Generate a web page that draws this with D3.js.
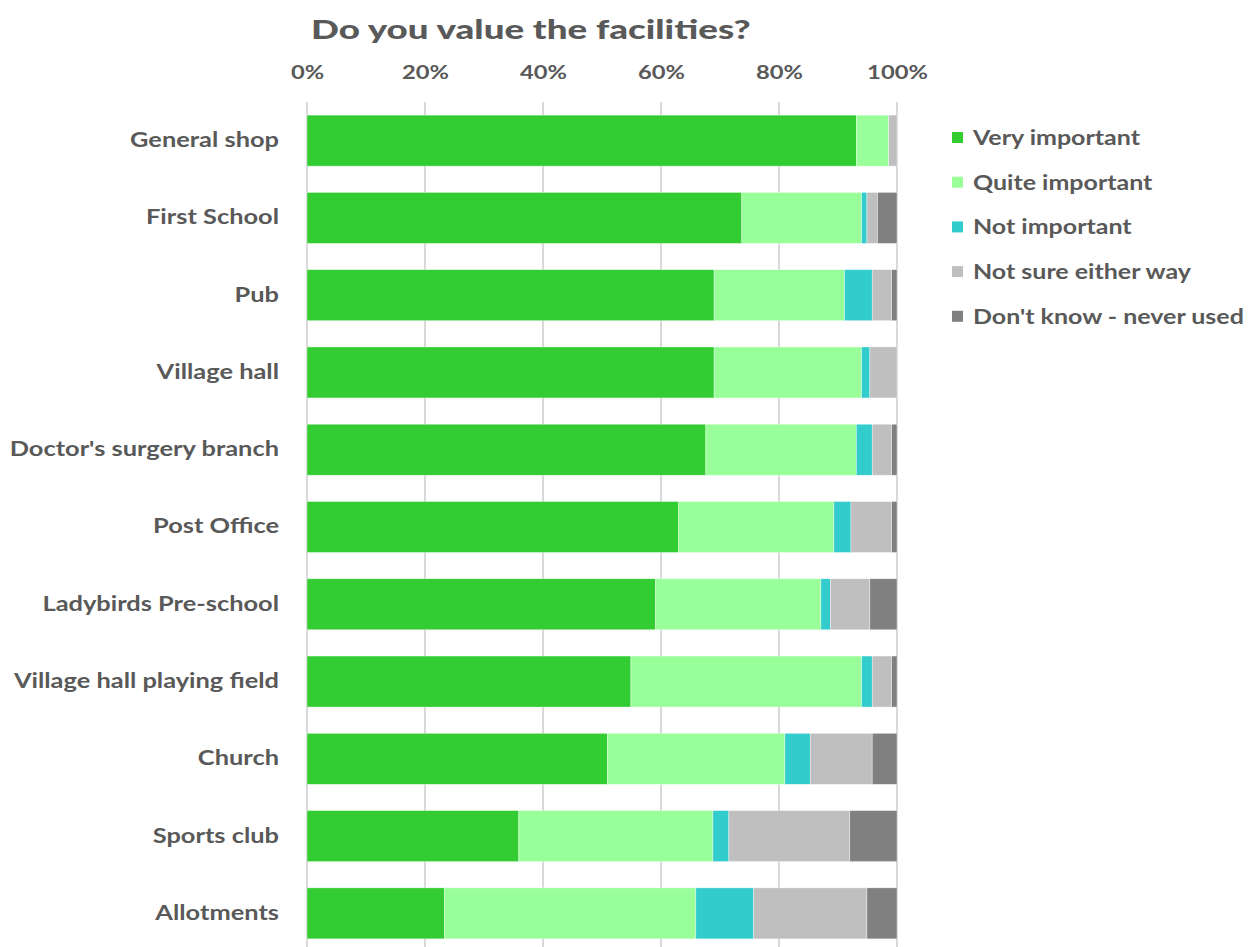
<!DOCTYPE html>
<html>
<head>
<meta charset="utf-8">
<script src="https://cdn.jsdelivr.net/npm/d3@7"></script>
<style>
  body { margin: 0; background: white; }
  text { font-family: Lato, "Open Sans", sans-serif; }
</style>
</head>
<body>
<div id="chart"></div>
<script>
var facilities = ["General shop", "First School", "Pub", "Village hall", "Doctor's surgery branch",
    "Post Office", "Ladybirds Pre-school", "Village hall playing field", "Church", "Sports club", "Allotments"];
var seriesNames = ["Very important", "Quite important", "Not important", "Not sure either way", "Don't know - never used"];
var seriesColours = ["#33cc33", "#99ff99", "#33cccc", "#bfbfbf", "#808080"];

// percentages per facility, one array per series
var veryImportant  = [93.1, 73.7, 69.0, 69.0, 67.6, 63.0, 59.1, 54.9, 50.9, 35.9, 23.3];
var quiteImportant = [5.5, 20.3, 22.1, 25.0, 25.5, 26.3, 28.0, 39.1, 30.1, 32.9, 42.6];
var notImportant   = [0.0, 0.9, 4.7, 1.4, 2.7, 2.9, 1.6, 1.8, 4.3, 2.7, 9.8];
var notSure        = [1.4, 1.8, 3.3, 4.6, 3.3, 6.9, 6.7, 3.3, 10.5, 20.5, 19.2];
var dontKnow       = [0.0, 3.3, 0.9, 0.0, 0.9, 0.9, 4.6, 0.9, 4.2, 8.0, 5.1];
var tickValues = [0, 0.2, 0.4, 0.6, 0.8, 1.0];

var seriesValues = [veryImportant, quiteImportant, notImportant, notSure, dontKnow];

var rows = facilities.map(function(f, i) {
    var row = { name: f };
    seriesNames.forEach(function(s, j) { row[s] = seriesValues[j][i]; });
    return row;
});

var svg = d3.select("#chart")
    .append("svg")
    .attr("width", 1250)
    .attr("height", 947);

var x = d3.scaleLinear().domain([0, 1]).range([307, 897]);
var y = d3.scaleBand().domain(facilities).range([102, 952]).paddingInner(0.34).paddingOuter(0.17);

// gridlines
svg.append("g")
    .selectAll("line")
    .data(tickValues)
    .join("line")
    .attr("x1", d => x(d))
    .attr("x2", d => x(d))
    .attr("y1", 102)
    .attr("y2", 947)
    .style("stroke", "#d9d9d9")
    .style("stroke-width", 2);

// stack normalised to 100%
var stack = d3.stack()
    .keys(seriesNames)
    .offset(d3.stackOffsetExpand);
var stacked = stack(rows);

svg.append("g")
    .selectAll("g")
    .data(stacked)
    .join("g")
    .style("fill", (d, i) => seriesColours[i])
    .selectAll("rect")
    .data(d => d)
    .join("rect")
    .attr("x", d => x(d[0]))
    .attr("y", d => y(d.data.name))
    .attr("width", d => Math.max(0, x(d[1]) - x(d[0])))
    .attr("height", y.bandwidth())
    .style("stroke", "white")
    .style("stroke-width", 0.6)
    .style("stroke-opacity", 0.6);

// top axis (text is stretched sideways like the original)
var axis = d3.axisTop(x)
    .tickValues(tickValues)
    .tickFormat(d3.format(".0%"))
    .tickSize(0);
var ax = svg.append("g")
    .attr("transform", "translate(0,82)")
    .call(axis);
ax.select(".domain").remove();
ax.selectAll("text")
    .attr("transform", "scale(1.25,1)")
    .style("font-size", "19px")
    .style("font-weight", "bold")
    .style("fill", "#595959");

// category labels
var yAxis = d3.axisLeft(y).tickSize(0).tickPadding(0);
var ay = svg.append("g")
    .attr("transform", "translate(279,0) scale(1.27,1)")
    .call(yAxis);
ay.select(".domain").remove();
ay.selectAll("text")
    .style("font-size", "20px")
    .style("font-weight", "bold")
    .style("fill", "#595959");

// title
svg.append("text")
    .attr("transform", "translate(311,39) scale(1.36,1)")
    .text("Do you value the facilities?")
    .style("font-size", "27px")
    .style("font-weight", "900")
    .style("fill", "#595959");

// legend
var legend = svg.append("g")
    .selectAll("g")
    .data(seriesNames)
    .join("g")
    .attr("transform", (d, i) => "translate(952," + (132 + i * 44.7) + ")");
legend.append("rect")
    .attr("width", 11)
    .attr("height", 11)
    .style("fill", (d, i) => seriesColours[i]);
legend.append("text")
    .attr("transform", "translate(21,0) scale(1.25,1)")
    .attr("y", 6)
    .attr("dy", "0.35em")
    .text(d => d)
    .style("font-size", "20px")
    .style("font-weight", "bold")
    .style("fill", "#595959");
</script>
</body>
</html>
